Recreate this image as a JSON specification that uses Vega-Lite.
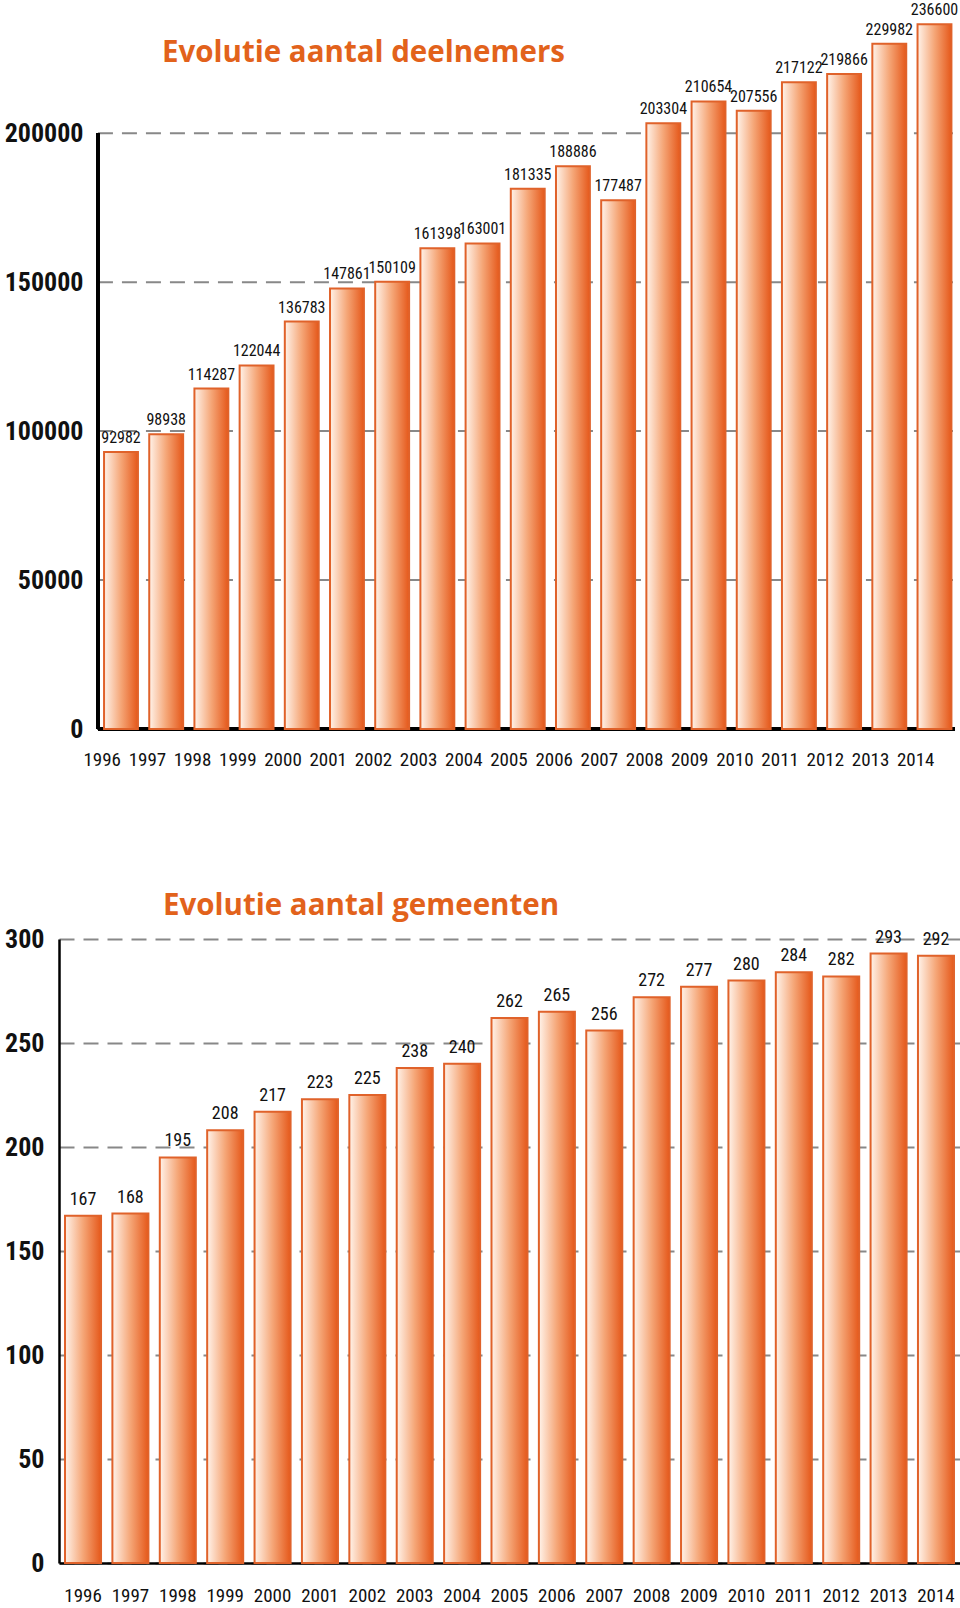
{
  "$schema": "https://vega.github.io/schema/vega-lite/v6.json",
  "background": "white",
  "padding": {"left": 4, "top": 2, "right": 0, "bottom": 0},
  "autosize": {"type": "pad"},
  "spacing": 121,
  "config": {
    "view": {"stroke": null},
    "axis": {"labelColor": "#111111", "title": null}
  },
  "datasets": {
    "deelnemers": [
      {"year": 1996, "value": 92982},
      {"year": 1997, "value": 98938},
      {"year": 1998, "value": 114287},
      {"year": 1999, "value": 122044},
      {"year": 2000, "value": 136783},
      {"year": 2001, "value": 147861},
      {"year": 2002, "value": 150109},
      {"year": 2003, "value": 161398},
      {"year": 2004, "value": 163001},
      {"year": 2005, "value": 181335},
      {"year": 2006, "value": 188886},
      {"year": 2007, "value": 177487},
      {"year": 2008, "value": 203304},
      {"year": 2009, "value": 210654},
      {"year": 2010, "value": 207556},
      {"year": 2011, "value": 217122},
      {"year": 2012, "value": 219866},
      {"year": 2013, "value": 229982},
      {"year": 2014, "value": 236600}
    ],
    "gemeenten": [
      {"year": 1996, "value": 167},
      {"year": 1997, "value": 168},
      {"year": 1998, "value": 195},
      {"year": 1999, "value": 208},
      {"year": 2000, "value": 217},
      {"year": 2001, "value": 223},
      {"year": 2002, "value": 225},
      {"year": 2003, "value": 238},
      {"year": 2004, "value": 240},
      {"year": 2005, "value": 262},
      {"year": 2006, "value": 265},
      {"year": 2007, "value": 256},
      {"year": 2008, "value": 272},
      {"year": 2009, "value": 277},
      {"year": 2010, "value": 280},
      {"year": 2011, "value": 284},
      {"year": 2012, "value": 282},
      {"year": 2013, "value": 293},
      {"year": 2014, "value": 292}
    ],
    "gridTop": [
      {"tick": 50000},
      {"tick": 100000},
      {"tick": 150000},
      {"tick": 200000}
    ]
  },
  "vconcat": [
    {
      "width": 898,
      "height": 715,
      "title": {
        "text": "Evolutie aantal deelnemers",
        "anchor": "start",
        "frame": "group",
        "dx": 103,
        "dy": 89,
        "offset": 0,
        "baseline": "alphabetic",
        "font": "Open Sans",
        "fontSize": 29.5,
        "fontWeight": "bold",
        "color": "#E2621B"
      },
      "layer": [
        {
          "data": {"name": "gridTop"},
          "mark": {"type": "rule", "stroke": "#888888", "strokeWidth": 2, "strokeDash": [15, 9]},
          "encoding": {
            "y": {"field": "tick", "type": "quantitative", "title": null},
            "x": {"datum": 1996, "type": "ordinal", "bandPosition": -0.18, "title": null},
            "x2": {"datum": 2014, "bandPosition": 1.1}
          }
        },
        {
          "data": {"name": "deelnemers"},
          "mark": {"type": "rule", "stroke": "#000000", "strokeWidth": 2.5},
          "encoding": {
            "y": {"datum": 0, "type": "quantitative", "title": null},
            "x": {"datum": 1996, "type": "ordinal", "bandPosition": -0.18, "title": null},
            "x2": {"datum": 2014, "bandPosition": 1.1}
          }
        },
        {
          "data": {"name": "deelnemers"},
          "mark": {"type": "rule", "stroke": "#000000", "strokeWidth": 2.5},
          "encoding": {
            "x": {"datum": 1996, "type": "ordinal", "bandPosition": -0.18, "title": null},
            "y": {"datum": 0, "type": "quantitative", "title": null},
            "y2": {"datum": 200000}
          }
        },
        {
          "data": {"name": "deelnemers"},
          "mark": {
            "type": "bar",
            "fill": {
              "gradient": "linear", "x1": 0, "x2": 1, "y1": 0, "y2": 0,
              "stops": [
                {"offset": 0, "color": "#FFF3EA"},
                {"offset": 0.5, "color": "#F5A677"},
                {"offset": 1, "color": "#E5581A"}
              ]
            },
            "stroke": "#E0622A",
            "strokeWidth": 2
          },
          "encoding": {
            "x": {
              "field": "year", "type": "ordinal",
              "scale": {"paddingInner": 0.25, "paddingOuter": 0.56, "align": 0.89},
              "axis": {"title": null, "domain": false, "ticks": false, "labelPadding": 30, "labelAngle": 0, "labelFont": "Roboto Condensed, Roboto", "labelFontSize": 19, "labelColor": "#111111"}
            },
            "y": {
              "field": "value", "type": "quantitative",
              "scale": {"domain": [0, 240000], "nice": false, "zero": true},
              "axis": {"title": null, "values": [0, 50000, 100000, 150000, 200000], "format": "d", "offset": -39, "domain": false, "ticks": false, "grid": false, "labelPadding": 15, "labelFont": "Roboto Condensed, Roboto", "labelFontSize": 26, "labelFontWeight": "bold", "labelColor": "#111111"}
            }
          }
        },
        {
          "data": {"name": "deelnemers"},
          "mark": {"type": "text", "baseline": "bottom", "dy": -6, "font": "Roboto Condensed, Roboto", "fontSize": 16, "color": "#111111"},
          "encoding": {
            "x": {"field": "year", "type": "ordinal"},
            "y": {"field": "value", "type": "quantitative"},
            "text": {"field": "value", "type": "quantitative", "format": "d"}
          }
        }
      ]
    },
    {
      "width": 901,
      "height": 624,
      "title": {
        "text": "Evolutie aantal gemeenten",
        "anchor": "start",
        "frame": "group",
        "dx": 104,
        "dy": 18,
        "offset": 0,
        "baseline": "alphabetic",
        "font": "Open Sans",
        "fontSize": 29.5,
        "fontWeight": "bold",
        "color": "#E2621B"
      },
      "data": {"name": "gemeenten"},
      "layer": [
        {
          "mark": {
            "type": "bar",
            "fill": {
              "gradient": "linear", "x1": 0, "x2": 1, "y1": 0, "y2": 0,
              "stops": [
                {"offset": 0, "color": "#FFF3EA"},
                {"offset": 0.5, "color": "#F5A677"},
                {"offset": 1, "color": "#E5581A"}
              ]
            },
            "stroke": "#E0622A",
            "strokeWidth": 2
          },
          "encoding": {
            "x": {
              "field": "year", "type": "ordinal",
              "scale": {"paddingInner": 0.24, "paddingOuter": 0.127},
              "axis": {"title": null, "domain": true, "domainColor": "#000000", "domainWidth": 2.5, "ticks": false, "labelPadding": 23, "labelAngle": 0, "labelFont": "Roboto Condensed, Roboto", "labelFontSize": 19, "labelColor": "#111111"}
            },
            "y": {
              "field": "value", "type": "quantitative",
              "scale": {"domain": [0, 300], "nice": false},
              "axis": {"title": null, "values": [0, 50, 100, 150, 200, 250, 300], "format": "d", "domain": true, "domainColor": "#000000", "domainWidth": 2.5, "ticks": false, "grid": true, "gridColor": "#888888", "gridWidth": 2, "gridDash": [15, 9], "labelPadding": 15, "labelFont": "Roboto Condensed, Roboto", "labelFontSize": 26, "labelFontWeight": "bold", "labelColor": "#111111"}
            }
          }
        },
        {
          "mark": {"type": "text", "baseline": "bottom", "dy": -7, "font": "Roboto Condensed, Roboto", "fontSize": 18, "color": "#111111"},
          "encoding": {
            "x": {"field": "year", "type": "ordinal"},
            "y": {"field": "value", "type": "quantitative"},
            "text": {"field": "value", "type": "quantitative", "format": "d"}
          }
        }
      ]
    }
  ]
}
